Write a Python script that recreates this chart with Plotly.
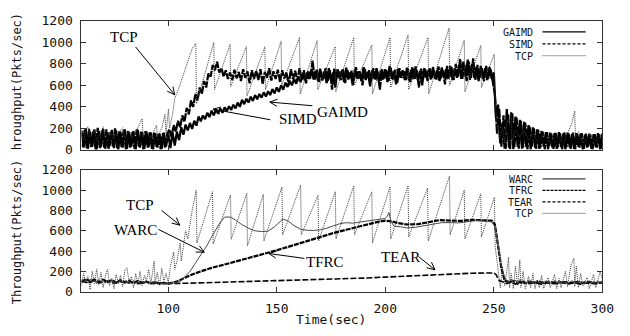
import math
import plotly.graph_objects as go

# ---------------- data ----------------
# top panel: GAIMD sampled at t = 60..300 (1 s), SIMD at t = 60.5..299.5
gaimd_t = list(range(60, 301))
gaimd_v = [
    180, 20, 200, 10, 170, 30, 190, 5, 175, 25,
    195, 10, 165, 35, 185, 15, 180, 5, 170, 20,
    190, 10, 160, 30, 175, 5, 185, 20, 165, 10,
    170, 25, 160, 5, 155, 20, 150, 10, 160, 30,
    150, 15, 160, 40, 170, 90, 210, 140, 235, 180,
    250, 195, 270, 225, 310, 265, 320, 285, 345, 305,
    365, 320, 375, 335, 385, 345, 395, 360, 405, 370,
    420, 385, 440, 400, 465, 425, 475, 440, 495, 455,
    510, 470, 520, 485, 535, 495, 545, 510, 565, 525,
    580, 540, 600, 560, 625, 585, 640, 600, 660, 615,
    680, 630, 700, 645, 720, 660, 745, 655, 735, 640,
    755, 645, 730, 620, 760, 650, 720, 580, 750, 660,
    740, 630, 765, 655, 720, 600, 745, 665, 730, 640,
    770, 650, 725, 590, 740, 660, 760, 640, 735, 655,
    750, 630, 780, 660, 730, 610, 755, 670, 740, 650,
    765, 640, 745, 660, 775, 650, 735, 600, 760, 670,
    745, 655, 770, 660, 740, 640, 765, 675, 750, 660,
    780, 650, 760, 670, 790, 660, 820, 680, 840, 650,
    800, 670, 770, 640, 780, 660, 760, 650, 770, 660,
    720, 300, 420, 60, 250, 10, 380, 20, 350, 5,
    310, 30, 280, 10, 260, 25, 230, 5, 210, 20,
    190, 10, 175, 30, 165, 5, 160, 20, 155, 10,
    165, 25, 150, 5, 160, 20, 145, 10, 155, 30,
    150, 5, 140, 20, 150, 10, 145, 25, 155, 5,
    150,
]
simd_t = [60.5 + i for i in range(240)]
simd_v = [
    30, 185, 10, 195, 25, 175, 5, 205, 15, 180,
    20, 190, 5, 170, 30, 200, 10, 175, 25, 185,
    5, 180, 20, 165, 10, 190, 30, 170, 5, 175,
    20, 165, 10, 160, 30, 150, 5, 155, 20, 145,
    190, 120, 230, 170, 270, 210, 320, 260, 390, 330,
    460, 400, 520, 460, 580, 520, 640, 580, 710, 680,
    790, 740, 820, 720, 760, 680, 740, 660, 720, 650,
    745, 665, 725, 640, 750, 670, 730, 620, 740, 660,
    735, 650, 750, 610, 725, 670, 760, 645, 730, 660,
    745, 630, 740, 665, 720, 600, 750, 660, 735, 640,
    760, 655, 740, 620, 735, 665, 830, 650, 745, 630,
    725, 660, 760, 640, 740, 560, 755, 670, 730, 650,
    750, 620, 745, 665, 735, 640, 770, 655, 725, 600,
    755, 670, 740, 645, 760, 650, 730, 560, 750, 665,
    740, 640, 765, 655, 745, 620, 760, 670, 730, 650,
    750, 630, 770, 660, 740, 580, 755, 665, 745, 640,
    760, 670, 735, 650, 775, 660, 745, 610, 780, 670,
    770, 650, 800, 680, 845, 660, 790, 640, 820, 670,
    850, 650, 790, 670, 760, 640, 780, 665, 755, 640,
    520, 150, 380, 30, 320, 10, 330, 5, 340, 25,
    300, 10, 270, 20, 250, 5, 220, 30, 200, 10,
    185, 20, 170, 5, 165, 30, 150, 10, 160, 20,
    155, 5, 165, 25, 150, 10, 160, 5, 145, 20,
    155, 10, 150, 30, 140, 5, 150, 20, 145, 10,
]
tcp_top_pts = [
    (60, 150), (61, 90), (62, 180), (63, 215), (64, 120), (66, 170), (67, 90), (69, 160),
    (70, 215), (71, 110), (73, 170), (75, 100), (77, 160), (79, 205), (80, 110), (82, 170),
    (84, 120), (86, 200), (88, 290), (88.4, 120), (90, 170), (92, 110), (94.6, 230), (95, 120),
    (97, 200), (98.5, 330), (99, 150), (100.1, 380), (100.6, 200), (102, 330), (103, 480),
    (105, 580), (108, 760), (111, 940), (112.7, 990), (113, 430), (121, 1000), (121.3, 560),
    (128.5, 980), (128.8, 590), (136, 960), (136.3, 500), (144.5, 960), (144.8, 560),
    (152, 1010), (152.3, 600), (160.5, 1045), (160.8, 520), (168.6, 1015), (168.9, 560),
    (176.9, 960), (177.2, 540), (185.5, 1045), (185.8, 600), (193.8, 975), (194.1, 520),
    (202.2, 1045), (202.5, 580), (210.5, 1070), (210.8, 560), (219.7, 1045), (220, 520),
    (229.4, 1134), (229.7, 600), (236.4, 1020), (236.7, 540), (244, 970), (244.3, 580),
    (250.2, 890), (250.6, 450), (251.5, 250), (252.5, 100), (254, 200), (255, 60), (256, 250),
    (258, 340), (258.4, 80), (260, 180), (262, 120), (264, 180), (266, 90), (268, 150),
    (270, 80), (273, 140), (276, 70), (279, 130), (282, 60), (284, 160), (286, 250),
    (287.3, 360), (287.6, 120), (289, 170), (291, 60), (294, 140), (297, 80), (300, 160),
]

# bottom panel
warc_pts = [
    (60, 120), (61, 90), (62, 115), (63, 85), (64, 125), (65, 95), (66, 110), (67, 80), (68, 120),
    (69, 95), (70, 115), (71, 85), (72, 110), (73, 90), (74, 120), (75, 80), (76, 105), (77, 90),
    (78, 115), (79, 85), (80, 110), (81, 90), (82, 105), (83, 80), (84, 110), (85, 85), (86, 100),
    (87, 80), (88, 105), (89, 85), (90, 100), (91, 75), (92, 95), (93, 80), (94, 90), (95, 75),
    (96, 88), (97, 78), (98, 85), (99, 80), (100, 82),
    (102, 85), (104, 92), (106, 110), (108, 150), (110, 200), (112, 265), (114, 330), (116, 390),
    (118, 460), (120, 540), (122, 615), (124, 685), (126, 735), (128.7, 735), (131, 705),
    (134, 660), (137, 625), (140, 600), (143, 592), (146, 596), (149, 640), (152.8, 715),
    (155, 700), (158, 650), (161, 615), (164, 605), (167, 603), (170, 610), (173, 625),
    (176, 645), (179, 670), (182, 680), (185, 675), (188, 685), (191, 695), (194, 705),
    (197, 715), (200, 722), (201, 745), (201.7, 780), (202.5, 700), (204, 645), (207, 640),
    (210, 628), (214, 635), (218, 648), (222, 665), (226, 680), (230, 680), (234, 678),
    (238, 690), (242, 700), (246, 695), (249, 688), (250.5, 640), (252, 470), (253.5, 250),
    (255, 140), (256, 110), (257, 90), (258, 125), (259, 85), (260, 115), (261, 80), (262, 120),
    (263, 90), (264, 110), (265, 75), (266, 115), (267, 85), (268, 105), (269, 80), (270, 110),
    (272, 85), (274, 105), (276, 80), (278, 110), (280, 85), (282, 100), (284, 80), (286, 108),
    (288, 85), (290, 100), (292, 78), (294, 105), (296, 82), (298, 100), (300, 85),
]
tfrc_pts = [
    (60, 95), (62, 125), (64, 100), (66, 120), (68, 90), (70, 118), (72, 95), (74, 115), (76, 88),
    (78, 112), (80, 92), (82, 108), (84, 85), (86, 105), (88, 88), (90, 100), (92, 82), (94, 95),
    (96, 80), (98, 85), (100, 80), (102, 88), (104, 100), (107, 130), (111, 170), (115, 200),
    (120, 235), (125, 262), (130, 290), (135, 320), (141, 355), (147, 390), (155, 440),
    (164, 500), (170, 540), (176, 577), (182, 610), (188, 645), (193, 672), (197, 690),
    (200, 700), (203, 692), (206, 675), (210, 662), (215, 665), (220, 685), (225, 705),
    (230, 700), (235, 698), (240, 708), (245, 702), (249, 700), (250.5, 665), (252, 460),
    (253.5, 230), (255, 110), (257, 95), (259, 105), (261, 88), (263, 100), (265, 85), (267, 98),
    (269, 90), (271, 100), (273, 86), (276, 96), (279, 88), (282, 98), (285, 85), (288, 95),
    (291, 88), (294, 96), (297, 86), (300, 92),
]
tear_pts = [
    (60, 105), (63, 85), (66, 110), (69, 90), (72, 105), (75, 85), (78, 100), (81, 82), (84, 98),
    (87, 80), (90, 95), (93, 78), (96, 88), (100, 80), (110, 84), (120, 90), (130, 96), (140, 100),
    (150, 107), (160, 112), (170, 118), (180, 124), (190, 134), (200, 144), (210, 155),
    (220, 166), (230, 177), (240, 182), (250, 185), (251, 170), (252.5, 110), (254, 95),
    (256, 80), (258, 95), (260, 75), (263, 92), (266, 78), (269, 90), (272, 75), (275, 88),
    (278, 78), (281, 90), (284, 76), (287, 88), (290, 75), (293, 86), (296, 78), (300, 85),
]
tcp_bot_pts = [
    (60, 60), (61, 180), (62, 90), (63, 150), (64, 20), (65, 200), (66, 80), (67, 220), (68, 70),
    (69, 190), (70, 40), (71, 150), (72, 220), (73, 60), (74, 130), (75, 30), (76, 170), (77, 80),
    (78, 160), (79, 50), (80, 210), (81, 235), (82, 90), (83, 150), (84, 40), (85, 180), (86, 70),
    (87, 200), (88, 60), (89, 160), (90, 110), (91, 220), (92, 80), (93.5, 300), (94, 90),
    (95, 190), (96, 60), (97, 230), (98, 100), (99, 180), (100, 90), (101, 250), (102.5, 390),
    (103, 220), (104, 300), (105.5, 480), (106, 300), (108, 600), (109, 520), (111, 800),
    (112.9, 1000), (113.2, 480), (120.4, 985), (120.7, 470), (128.7, 955), (129, 515),
    (136.2, 970), (136.5, 450), (143.8, 960), (144.1, 500), (152.4, 1030), (152.7, 560),
    (161, 1050), (161.3, 560), (169, 950), (169.3, 500), (177, 985), (177.3, 520),
    (185.5, 1045), (185.8, 560), (193.8, 985), (194.1, 480), (202.2, 1035), (202.5, 520),
    (210.5, 1045), (210.8, 540), (219.5, 1020), (219.8, 500), (229.6, 1140), (229.9, 560),
    (236.4, 1000), (236.7, 520), (244, 965), (244.3, 540), (250.3, 930), (250.6, 450),
    (251.5, 300), (252.5, 120), (253, 40), (254, 250), (255, 60), (256, 200), (256.8, 340),
    (257.3, 40), (258, 180), (259, 30), (260, 250), (261, 60), (262, 310), (262.5, 40),
    (263.5, 200), (264.5, 30), (266, 150), (267, 40), (268, 180), (269, 30), (270, 120),
    (271, 40), (272, 160), (273, 30), (275, 140), (276, 40), (278, 170), (279, 30), (280, 130),
    (281, 40), (283, 200), (284, 50), (285.5, 260), (286.9, 330), (287.3, 50), (288, 250),
    (289, 40), (290, 180), (291, 60), (293, 140), (294, 30), (296, 170), (297, 40), (299, 200),
    (300, 120),
]

x_ticks = [100, 150, 200, 250, 300]
y_ticks = [0, 200, 400, 600, 800, 1000, 1200]

# ---------------- layout geometry ----------------
W, H = 630, 336
XL, XR = 83, 614
TOP_T, TOP_B = 14.5, 149.5
BOT_T, BOT_B = 170.5, 298
XMIN, XMAX = 60, 300
YMAX = 1200


def py(p):
    return 1 - p / H


def unzip(pts):
    return [p[0] for p in pts], [p[1] for p in pts]


fig = go.Figure()
BLACK = "#000000"
TCPC = "#3a3a3a"

fig.add_trace(go.Scatter(x=gaimd_t, y=gaimd_v, mode="lines", name="GAIMD",
                         line=dict(color=BLACK, width=2.2), xaxis="x", yaxis="y"))
fig.add_trace(go.Scatter(x=simd_t, y=simd_v, mode="lines", name="SIMD",
                         line=dict(color=BLACK, width=2.2, dash="8px,1px"), xaxis="x", yaxis="y"))
tt, tv = unzip(tcp_top_pts)
fig.add_trace(go.Scatter(x=tt, y=tv, mode="lines", name="TCP",
                         line=dict(color=TCPC, width=1, dash="1px,1px"), xaxis="x", yaxis="y"))

bt, bv = unzip(tcp_bot_pts)
fig.add_trace(go.Scatter(x=bt, y=bv, mode="lines", name="TCP",
                         line=dict(color=TCPC, width=1, dash="1px,1px"), xaxis="x2", yaxis="y2"))
t, v = unzip(tear_pts)
fig.add_trace(go.Scatter(x=t, y=v, mode="lines", name="TEAR",
                         line=dict(color=BLACK, width=1.6, dash="6px,2px"), xaxis="x2", yaxis="y2"))
t, v = unzip(tfrc_pts)
fig.add_trace(go.Scatter(x=t, y=v, mode="lines", name="TFRC",
                         line=dict(color=BLACK, width=2.2, dash="5px,1px"), xaxis="x2", yaxis="y2"))
t, v = unzip(warc_pts)
fig.add_trace(go.Scatter(x=t, y=v, mode="lines", name="WARC",
                         line=dict(color="#4a4a4a", width=1), xaxis="x2", yaxis="y2"))

MONO = "DejaVu Sans Mono"
SERIF = "Liberation Serif"

axis_common = dict(showline=True, linecolor="#333333", linewidth=1, mirror="allticks",
                   ticks="inside", ticklen=5, tickcolor="#333333", showgrid=False,
                   zeroline=False, tickfont=dict(family=MONO, size=13, color="#111111"))

fig.update_layout(
    width=W, height=H, margin=dict(l=0, r=0, t=0, b=0),
    paper_bgcolor="white", plot_bgcolor="white", showlegend=False,
    xaxis=dict(domain=[XL / W, XR / W], range=[XMIN, XMAX], tickvals=x_ticks,
               showticklabels=False, anchor="y", **axis_common),
    yaxis=dict(domain=[py(TOP_B), py(TOP_T)], range=[0, YMAX], tickvals=y_ticks,
               anchor="x", ticklabelstandoff=5, **axis_common),
    xaxis2=dict(domain=[XL / W, XR / W], range=[XMIN, XMAX], tickvals=x_ticks,
                anchor="y2", ticklabelstandoff=5, **axis_common),
    yaxis2=dict(domain=[py(BOT_B), py(BOT_T)], range=[0, YMAX], tickvals=y_ticks,
                anchor="x2", ticklabelstandoff=5, **axis_common),
)

ann = []
shapes = []

# axis titles
ann.append(dict(text="hroughput(Pkts/sec)", xref="paper", yref="paper", x=17 / W, y=py(78),
                showarrow=False, textangle=-90, font=dict(family=MONO, size=12, color="#111"),
                xanchor="center", yanchor="middle"))
ann.append(dict(text="Throughput(Pkts/sec)", xref="paper", yref="paper", x=17 / W, y=py(235),
                showarrow=False, textangle=-90, font=dict(family=MONO, size=12, color="#111"),
                xanchor="center", yanchor="middle"))
ann.append(dict(text="Time(sec)", xref="paper", yref="paper", x=337 / W, y=py(327),
                showarrow=False, font=dict(family=MONO, size=13, color="#111"),
                xanchor="center", yanchor="middle"))


# arrows with open V heads
def yscale(top, bot):
    return (bot - top) / YMAX


XS = (XR - XL) / (XMAX - XMIN)


def arrow(xr, yr, tip, tail, ys):
    ann.append(dict(x=tip[0], y=tip[1], ax=tail[0], ay=tail[1], xref=xr, yref=yr,
                    axref=xr, ayref=yr, text="", showarrow=True, arrowhead=0,
                    arrowwidth=1, arrowcolor="black", standoff=0, startstandoff=0))
    dx = (tail[0] - tip[0]) * XS
    dy = -(tail[1] - tip[1]) * ys
    n = math.hypot(dx, dy)
    ux, uy = dx / n, dy / n
    for ang in (0.45, -0.45):
        c, s = math.cos(ang), math.sin(ang)
        rx, ry = ux * c - uy * s, ux * s + uy * c
        ann.append(dict(x=tip[0], y=tip[1], ax=rx * 10, ay=ry * 10, xref=xr, yref=yr,
                        text="", showarrow=True, arrowhead=0, arrowwidth=1,
                        arrowcolor="black", standoff=0))


def label(xr, yr, x, y, s):
    ann.append(dict(x=x, y=y, xref=xr, yref=yr, text=s, showarrow=False,
                    font=dict(family=SERIF, size=15, color="black"),
                    xanchor="center", yanchor="middle"))


ys_top = yscale(TOP_T, TOP_B)
ys_bot = yscale(BOT_T, BOT_B)

label("x", "y", 79.4, 1051, "TCP")
arrow("x", "y", (103, 512), (84.4, 971), ys_top)
label("x", "y", 159.9, 283, "SIMD")
arrow("x", "y", (120.6, 378), (147.7, 277), ys_top)
label("x", "y", 180.2, 354, "GAIMD")
arrow("x", "y", (146.8, 444), (167.1, 409), ys_top)

label("x2", "y2", 86.9, 852, "TCP")
arrow("x2", "y2", (105.3, 656), (96.3, 812), ys_bot)
label("x2", "y2", 85.1, 612, "WARC")
arrow("x2", "y2", (116.6, 389), (94.8, 621), ys_bot)
label("x2", "y2", 172.4, 296, "TFRC")
arrow("x2", "y2", (146.4, 376), (163.4, 326), ys_bot)
label("x2", "y2", 206.9, 344, "TEAR")
arrow("x2", "y2", (222.9, 216), (214.6, 358), ys_bot)


# custom legends (text then sample, gnuplot style)
def legend_row(text, ypx, color, width, dash):
    ann.append(dict(text=text, xref="paper", yref="paper", x=544 / W, y=py(ypx),
                    showarrow=False, xanchor="right", yanchor="middle", height=10,
                    borderpad=0, valign="middle",
                    font=dict(family=MONO, size=10, color="#111")))
    shapes.append(dict(type="line", xref="paper", yref="paper", x0=553 / W, x1=597 / W,
                       y0=py(ypx), y1=py(ypx), line=dict(color=color, width=width, dash=dash)))


legend_row("GAIMD", 26, BLACK, 1.2, "solid")
legend_row("SIMD", 38.5, BLACK, 1.2, "3px,2px")
legend_row("TCP", 51, TCPC, 1, "1px,1px")

legend_row("WARC", 180, "#444444", 1.3, "solid")
legend_row("TFRC", 192, BLACK, 1.2, "3px,1px")
legend_row("TEAR", 204, BLACK, 1.2, "3px,2px")
legend_row("TCP", 216, TCPC, 1, "1px,1px")

fig.update_layout(annotations=ann, shapes=shapes)
fig.write_html("out.html")
